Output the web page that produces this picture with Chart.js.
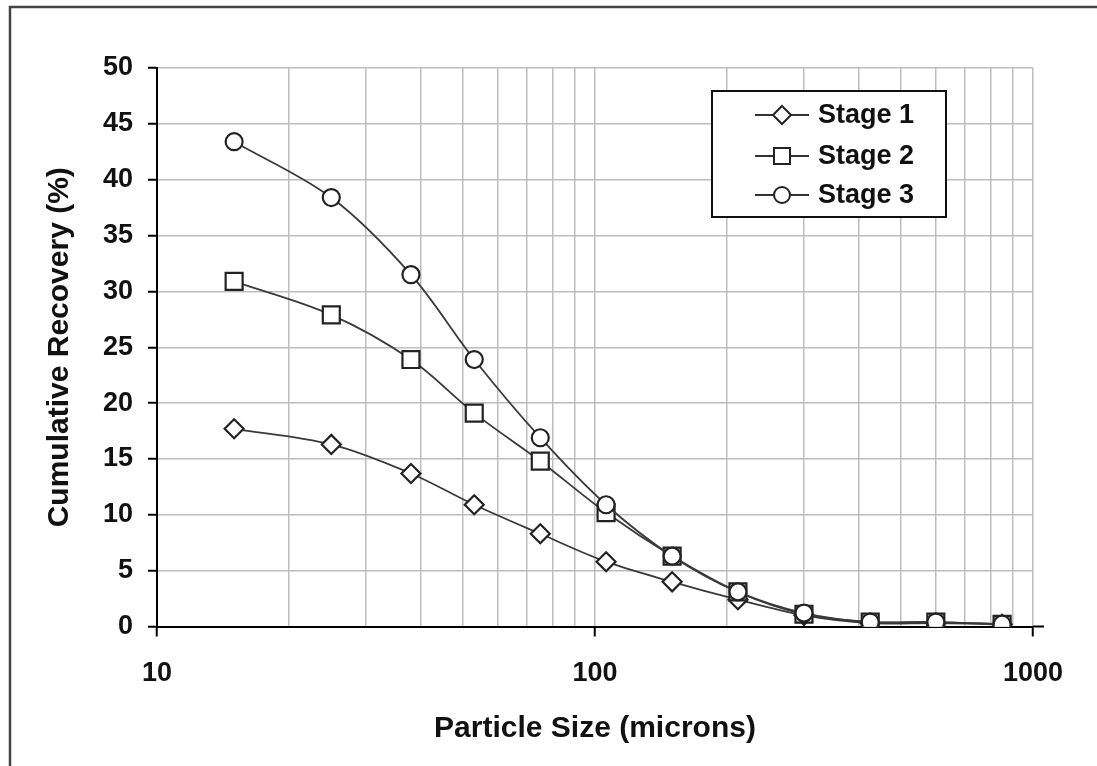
<!DOCTYPE html>
<html>
<head>
<meta charset="utf-8">
<script src="https://cdn.jsdelivr.net/npm/chart.js@4/dist/chart.umd.min.js"></script>
<style>
  html, body { margin: 0; padding: 0; background: #fff; }
  #wrap { width: 1097px; height: 766px; }
</style>
</head>
<body>
<div id="wrap"><canvas id="chartRecovery" width="1097" height="766"></canvas></div>
<script>
// sieve sizes (microns) and cumulative recovery (%) per stage
const sizes = [15, 25, 38, 53, 75, 106, 150, 212, 300, 425, 600, 850];
const stage1 = [17.7, 16.3, 13.7, 10.9, 8.3, 5.8, 4.0, 2.4, 1.0, 0.3, 0.3, 0.2];
const stage2 = [30.9, 27.9, 23.9, 19.1, 14.8, 10.2, 6.3, 3.1, 1.1, 0.4, 0.4, 0.2];
const stage3 = [43.4, 38.4, 31.5, 23.9, 16.9, 10.9, 6.3, 3.1, 1.2, 0.4, 0.4, 0.2];

// log axis grid values and the ones that get a label
const xGrid = [10, 20, 30, 40, 50, 60, 70, 80, 90, 100, 200, 300, 400, 500, 600, 700, 800, 900, 1000];
const xLabels = [10, 100, 1000];

const FONT = "'Liberation Sans', Arial, sans-serif";
const INK = '#222';

function pts(vals) {
    return sizes.map((s, i) => ({ x: s, y: vals[i] }));
}

function series(label, vals, style, radius) {
    return {
        label: label,
        data: pts(vals),
        borderColor: '#3a3a3a',
        borderWidth: 1.8,
        tension: 0.33,
        fill: false,
        pointStyle: style,
        pointRadius: radius,
        pointBackgroundColor: '#fff',
        pointBorderColor: INK,
        pointBorderWidth: 2.2
    };
}

// draw order: first dataset ends up on top
const datasets = [
    series('Stage 3', stage3, 'circle', 8.5),
    series('Stage 2', stage2, 'rect', 12),
    series('Stage 1', stage1, 'rectRot', 9.5)
];

function marker(ctx, style, x, y) {
    ctx.beginPath();
    if (style === 'circle') {
        ctx.arc(x, y, 8, 0, Math.PI * 2);
    } else if (style === 'rect') {
        ctx.rect(x - 8, y - 8, 16, 16);
    } else {
        ctx.moveTo(x, y - 9);
        ctx.lineTo(x + 9, y);
        ctx.lineTo(x, y + 9);
        ctx.lineTo(x - 9, y);
        ctx.closePath();
    }
    ctx.fillStyle = '#fff';
    ctx.fill();
    ctx.lineWidth = 2;
    ctx.strokeStyle = INK;
    ctx.stroke();
}

const extras = {
    id: 'extras',
    beforeDraw(chart) {
        const ctx = chart.ctx;
        ctx.save();
        ctx.fillStyle = '#fff';
        ctx.fillRect(0, 0, chart.width, chart.height);
        ctx.strokeStyle = '#444';
        ctx.lineWidth = 2.5;
        ctx.beginPath();
        ctx.moveTo(10, chart.height);
        ctx.lineTo(10, 7);
        ctx.lineTo(chart.width, 7);
        ctx.stroke();
        ctx.restore();
    },
    afterDraw(chart) {
        const ctx = chart.ctx;
        const a = chart.chartArea;
        ctx.save();
        // axis line runs a little past 1000
        ctx.strokeStyle = '#000';
        ctx.lineWidth = 2;
        ctx.beginPath();
        ctx.moveTo(a.right, a.bottom);
        ctx.lineTo(a.right + 11, a.bottom);
        ctx.stroke();

        // legend box
        const bx = 712, by = 91, bw = 234, bh = 126;
        ctx.fillStyle = '#fff';
        ctx.fillRect(bx, by, bw, bh);
        ctx.lineWidth = 2;
        ctx.strokeStyle = '#111';
        ctx.strokeRect(bx, by, bw, bh);
        const rows = [
            { text: 'Stage 1', style: 'rectRot', y: 115 },
            { text: 'Stage 2', style: 'rect', y: 156 },
            { text: 'Stage 3', style: 'circle', y: 195 }
        ];
        rows.forEach(r => {
            ctx.strokeStyle = '#333';
            ctx.lineWidth = 1.8;
            ctx.beginPath();
            ctx.moveTo(755, r.y);
            ctx.lineTo(809, r.y);
            ctx.stroke();
            marker(ctx, r.style, 782, r.y);
            ctx.fillStyle = '#111';
            ctx.font = 'bold 27px ' + FONT;
            ctx.textAlign = 'left';
            ctx.textBaseline = 'middle';
            ctx.fillText(r.text, 818, r.y + 1);
        });
        ctx.restore();
    }
};

new Chart(document.getElementById('chartRecovery'), {
    type: 'line',
    data: { datasets: datasets },
    options: {
        responsive: false,
        animation: false,
        layout: { padding: { top: 68, right: 64, left: 42, bottom: 19 } },
        plugins: {
            legend: { display: false },
            tooltip: { enabled: false }
        },
        scales: {
            x: {
                type: 'logarithmic',
                min: 10,
                max: 1000,
                afterBuildTicks: s => { s.ticks = xGrid.map(v => ({ value: v })); },
                afterFit: s => { s.height = 120.5; },
                border: { color: '#000', width: 2 },
                grid: {
                    color: '#bdbdbd',
                    lineWidth: 1.5,
                    tickLength: 10,
                    tickColor: c => (c.tick && xLabels.includes(c.tick.value)) ? '#000' : 'rgba(0,0,0,0)',
                    tickWidth: 2
                },
                ticks: {
                    autoSkip: false,
                    maxRotation: 0,
                    padding: 21,
                    color: '#111',
                    font: { family: FONT, size: 27, weight: 'bold' },
                    callback: v => xLabels.includes(v) ? String(v) : ''
                },
                title: {
                    display: true,
                    text: 'Particle Size (microns)',
                    color: '#111',
                    padding: 0,
                    font: { family: FONT, size: 30, weight: 'bold' }
                }
            },
            y: {
                min: 0,
                max: 50,
                afterFit: s => { s.width = 115; },
                border: { color: '#000', width: 2 },
                grid: {
                    color: '#bdbdbd',
                    lineWidth: 1.5,
                    tickLength: 9,
                    tickColor: '#000',
                    tickWidth: 2
                },
                ticks: {
                    stepSize: 5,
                    padding: 15,
                    color: '#111',
                    font: { family: FONT, size: 27, weight: 'bold' }
                },
                title: {
                    display: true,
                    text: 'Cumulative Recovery (%)',
                    color: '#111',
                    padding: 0,
                    font: { family: FONT, size: 30, weight: 'bold' }
                }
            }
        }
    },
    plugins: [extras]
});
</script>
</body>
</html>
